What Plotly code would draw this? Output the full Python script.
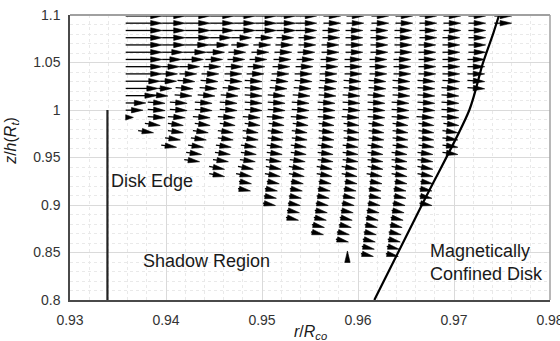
import math
import plotly.graph_objects as go

# ---------------- data ----------------
X_RANGE = [0.93, 0.98]
Z_RANGE = [0.80, 1.10]
X_TICKS = [0.93, 0.94, 0.95, 0.96, 0.97, 0.98]
X_TICK_TEXT = ["0.93", "0.94", "0.95", "0.96", "0.97", "0.98"]
Z_TICKS = [0.80, 0.85, 0.90, 0.95, 1.00, 1.05, 1.10]
Z_TICK_TEXT = ["0.8", "0.85", "0.9", "0.95", "1", "1.05", "1.1"]

# heights of the rows of arrows (z/h)
ROW_Z = [1.0990, 1.0914, 1.0837, 1.0761, 1.0685, 1.0608, 1.0532, 1.0456, 1.0380,
         1.0303, 1.0227, 1.0151, 1.0074, 0.9998, 0.9922, 0.9845, 0.9769, 0.9693,
         0.9616, 0.9540, 0.9464, 0.9387, 0.9311, 0.9235, 0.9159, 0.9082, 0.9006,
         0.8930, 0.8853, 0.8777, 0.8701, 0.8624, 0.8548, 0.8472]

# arrow-tip r/Rco of each column, listed from the top row downwards
C0 = [0.9396, 0.9396, 0.9396, 0.9396, 0.9396, 0.9396, 0.9396, 0.9396, 0.9396,
      0.9394, 0.9392, 0.9390, 0.9379, 0.9376, 0.9366]
C1 = [0.9420, 0.9420, 0.9420, 0.9420, 0.9420, 0.9418, 0.9416, 0.9414, 0.9412,
      0.9411, 0.9406, 0.9402, 0.9399, 0.9399, 0.9399, 0.9394, 0.9387]
C2 = [0.9446, 0.9446, 0.9446, 0.9446, 0.9445, 0.9442, 0.9439, 0.9435, 0.9432,
      0.9430, 0.9428, 0.9427, 0.9422, 0.9422, 0.9420, 0.9418, 0.9418, 0.9415, 0.9411]
C3 = [0.9471, 0.9471, 0.9471, 0.9468, 0.9465, 0.9461, 0.9459, 0.9457, 0.9455,
      0.9454, 0.9453, 0.9451, 0.9448, 0.9448, 0.9446, 0.9446, 0.9444, 0.9442,
      0.9439, 0.9437, 0.9435]
C4 = [0.9493, 0.9493, 0.9493, 0.9489, 0.9486, 0.9483, 0.9482, 0.9480, 0.9479,
      0.9479, 0.9477, 0.9475, 0.9474, 0.9474, 0.9472, 0.9472, 0.9470, 0.9470,
      0.9468, 0.9467, 0.9465, 0.9461, 0.9461]
C5 = [0.9515, 0.9515, 0.9515, 0.9511, 0.9509, 0.9507, 0.9505, 0.9503, 0.9502,
      0.9500, 0.9500, 0.9500, 0.9500, 0.9500, 0.9498, 0.9498, 0.9496, 0.9496,
      0.9494, 0.9494, 0.9493, 0.9491, 0.9489, 0.9489, 0.9488]
C6 = [0.9535, 0.9535, 0.9535, 0.9533, 0.9532, 0.9531, 0.9530, 0.9529, 0.9528,
      0.9527, 0.9526, 0.9524, 0.9524, 0.9524, 0.9523, 0.9523, 0.9522, 0.9522,
      0.9521, 0.9521, 0.9520, 0.9520, 0.9519, 0.9518, 0.9516, 0.9515, 0.9514]
C7 = [0.9557, 0.9557, 0.9557, 0.9556, 0.9556, 0.9555, 0.9554, 0.9553, 0.9552,
      0.9552, 0.9551, 0.9550, 0.9549, 0.9549, 0.9548, 0.9548, 0.9547, 0.9547,
      0.9546, 0.9546, 0.9545, 0.9544, 0.9544, 0.9543, 0.9542, 0.9541, 0.9540,
      0.9539, 0.9538]
C8 = [0.9582, 0.9582, 0.9581, 0.9581, 0.9580, 0.9580, 0.9579, 0.9579, 0.9578,
      0.9578, 0.9577, 0.9577, 0.9576, 0.9576, 0.9576, 0.9575, 0.9575, 0.9575,
      0.9574, 0.9574, 0.9574, 0.9573, 0.9573, 0.9572, 0.9571, 0.9570, 0.9569,
      0.9568, 0.9567, 0.9565, 0.9564]
C9 = [0.9606, 0.9606, 0.9605, 0.9605, 0.9605, 0.9605, 0.9604, 0.9604, 0.9604,
      0.9603, 0.9603, 0.9602, 0.9602, 0.9602, 0.9601, 0.9601, 0.9601, 0.9601,
      0.9600, 0.9600, 0.9600, 0.9599, 0.9599, 0.9599, 0.9598, 0.9597, 0.9596,
      0.9595, 0.9594, 0.9593, 0.9591, 0.9590]
C10 = [0.9632, 0.9632, 0.9631, 0.9631, 0.9631, 0.9631, 0.9630, 0.9630, 0.9630,
       0.9629, 0.9629, 0.9628, 0.9628, 0.9628, 0.9628, 0.9627, 0.9627, 0.9627,
       0.9626, 0.9626, 0.9626, 0.9626, 0.9625, 0.9625, 0.9624, 0.9624, 0.9623,
       0.9622, 0.9621, 0.9620, 0.9619, 0.9618, 0.9617, 0.9616]
C11 = [0.9657, 0.9657, 0.9656, 0.9656, 0.9656, 0.9656, 0.9655, 0.9655, 0.9655,
       0.9654, 0.9654, 0.9654, 0.9653, 0.9653, 0.9653, 0.9652, 0.9652, 0.9652,
       0.9652, 0.9651, 0.9651, 0.9651, 0.9651, 0.9651, 0.9650, 0.9650, 0.9649,
       0.9648, 0.9647, 0.9646, 0.9645, 0.9644, 0.9643, 0.9642]
C12 = [0.9682, 0.9682, 0.9682, 0.9682, 0.9681, 0.9681, 0.9681, 0.9681, 0.9681,
       0.9680, 0.9680, 0.9680, 0.9680, 0.9680, 0.9679, 0.9679, 0.9679, 0.9679,
       0.9679, 0.9678, 0.9678, 0.9678, 0.9678, 0.9678, 0.9677, 0.9677, 0.9677]
C13 = [0.9707, 0.9707, 0.9707, 0.9706, 0.9706, 0.9706, 0.9706, 0.9706, 0.9706,
       0.9706, 0.9705, 0.9705, 0.9705, 0.9705, 0.9705, 0.9705, 0.9704, 0.9704,
       0.9704, 0.9704]
C14 = [0.9733, 0.9733, 0.9733, 0.9733, 0.9733, 0.9733, 0.9732, 0.9732, 0.9732,
       0.9732, 0.9732]
C15 = [0.9760, 0.9760]
COLUMNS = [C0, C1, C2, C3, C4, C5, C6, C7, C8, C9, C10, C11, C12, C13, C14, C15]

# number of leading arrows of each row that start where the previous one ends
ROW_CHAIN = [8, 8, 8, 5, 4, 4, 3, 3, 2, 2, 2, 1, 1, 1, 1,
             0, 0, 0, 0, 0, 0, 0, 0, 0, 0, 0, 0, 0, 0, 0, 0, 0, 0, 0]
# downward tilt of the (unchained) arrows of each row (degrees)
ROW_TILT_DEG = [0, 0, 0, 0, 0, 0, 0, 0, 0,
                4, 4, 4, 4, 4, 4,
                8, 8, 8, 8, 8, 8,
                11, 11, 11, 11, 11, 11, 11,
                13, 13, 13, 13, 13, 13]
# length of the ordinary (unchained) arrows of each row (r/Rco)
ROW_LEN = [0.0018] * 15 + [0.0016] * 8 + [0.0013] * 11
X_START = 0.9358          # where the first arrows of each row start
UP_ARROW = (0.9589, 0.8516)  # tip of the single upward arrow

# boundary of the magnetically confined disk
CURVE_X = [0.9617, 0.9669, 0.9716, 0.9730, 0.9741, 0.9747]
CURVE_Z = [0.800, 0.905, 1.000, 1.049, 1.081, 1.100]
# disk edge
EDGE_X = 0.9339
EDGE_Z = [0.80, 1.00]

# ---------------- layout geometry ----------------
W, H = 560, 341
M_L, M_R, M_T, M_B = 70, 10, 15, 41
PLOT_W = W - M_L - M_R
PLOT_H = H - M_T - M_B
SX = PLOT_W / (X_RANGE[1] - X_RANGE[0])   # px per data unit
SZ = PLOT_H / (Z_RANGE[1] - Z_RANGE[0])
HEAD_LEN = 11.5
HEAD_HW = 2.7

shaft_x, shaft_z, head_x, head_z = [], [], [], []


def add_arrow(tx, tz, px, pz):
    dxp = (px - tx) * SX
    dzp = (pz - tz) * SZ
    L = math.hypot(dxp, dzp)
    if L == 0:
        return
    ux, uz = dxp / L, dzp / L
    hl = min(HEAD_LEN, L)
    bx = px - hl * ux / SX
    bz = pz - hl * uz / SZ
    nx, nz = -uz, ux
    head_x.extend([px, bx + HEAD_HW * nx / SX, bx - HEAD_HW * nx / SX, px, None])
    head_z.extend([pz, bz + HEAD_HW * nz / SZ, bz - HEAD_HW * nz / SZ, pz, None])
    if L > hl:
        ex = px - (hl - 2) * ux / SX
        ez = pz - (hl - 2) * uz / SZ
        shaft_x.extend([tx, ex, None])
        shaft_z.extend([tz, ez, None])


for k, z in enumerate(ROW_Z):
    tips = [col[k] for col in COLUMNS if k < len(col)]
    for i, tip in enumerate(tips):
        if i < ROW_CHAIN[k]:
            tail = X_START if i == 0 else tips[i - 1]
            th = 0.0
        else:
            tail = tip - ROW_LEN[k]
            th = math.radians(ROW_TILT_DEG[k])
        tip_z = z - (HEAD_LEN / 2) * math.sin(th) / SZ
        Lp = (tip - tail) * SX
        tail_z = tip_z + Lp * math.tan(th) / SZ
        add_arrow(tail, tail_z, tip, tip_z)

# single upward arrow
add_arrow(UP_ARROW[0], UP_ARROW[1] - HEAD_LEN / SZ, UP_ARROW[0], UP_ARROW[1])

fig = go.Figure()
fig.add_trace(go.Scatter(x=shaft_x, y=shaft_z, mode="lines",
                         line=dict(color="black", width=1.3),
                         hoverinfo="skip", showlegend=False))
fig.add_trace(go.Scatter(x=head_x, y=head_z, mode="lines", fill="toself",
                         fillcolor="black", line=dict(color="black", width=0.6),
                         hoverinfo="skip", showlegend=False))
fig.add_trace(go.Scatter(x=CURVE_X, y=CURVE_Z, mode="lines",
                         line=dict(color="black", width=2.2, shape="spline", smoothing=0.8),
                         hoverinfo="skip", showlegend=False))
fig.add_trace(go.Scatter(x=[EDGE_X, EDGE_X], y=EDGE_Z, mode="lines",
                         line=dict(color="#222222", width=2.2),
                         hoverinfo="skip", showlegend=False))

FONT = "Liberation Sans, Arial, sans-serif"
TXT = dict(family=FONT, size=18, color="#1a1a1a")
fig.add_annotation(x=0.9341, y=0.9255, text="Disk Edge", showarrow=False,
                   xanchor="left", yanchor="middle", font=TXT)
fig.add_annotation(x=0.9442, y=0.841, text="Shadow Region", showarrow=False,
                   xanchor="center", yanchor="middle", font=TXT)
fig.add_annotation(x=0.9673, y=0.839, text="Magnetically<br>Confined Disk",
                   showarrow=False, xanchor="left", yanchor="middle",
                   align="left", font=TXT)
# axis titles
fig.add_annotation(xref="paper", yref="paper", x=0.5, y=-0.115,
                   text="<i>r</i>/<i>R</i><sub><i>co</i></sub>", showarrow=False,
                   xanchor="center", yanchor="middle",
                   font=dict(family=FONT, size=16, color="#1a1a1a"))
fig.add_annotation(xref="paper", yref="paper", x=-0.122, y=0.56,
                   text="<i>z</i>/<i>h</i>(<i>R</i><sub><i>t</i></sub>)",
                   showarrow=False, textangle=-90, xanchor="center",
                   yanchor="middle",
                   font=dict(family=FONT, size=16, color="#1a1a1a"))

# top and right frame lines
fig.add_shape(type="line", xref="paper", yref="paper", x0=0, x1=1, y0=1, y1=1,
              line=dict(color="#a0a0a0", width=2))
fig.add_shape(type="line", xref="paper", yref="paper", x0=1, x1=1, y0=0, y1=1,
              line=dict(color="#a0a0a0", width=1.5))

fig.update_layout(
    width=W, height=H,
    margin=dict(l=M_L, r=M_R, t=M_T, b=M_B, autoexpand=False),
    paper_bgcolor="white", plot_bgcolor="white",
    font=dict(family=FONT, size=14, color="#333333"),
    xaxis=dict(range=X_RANGE, tickmode="array", tickvals=X_TICKS,
               ticktext=X_TICK_TEXT, showline=True, linecolor="#4a4a4a",
               linewidth=1.5, showgrid=True, gridcolor="#dadada", gridwidth=1,
               zeroline=False, ticks="", ticklabelstandoff=6, automargin=False,
               ticklabeloverflow="allow",
               tickfont=dict(size=14, color="#333333"),
               minor=dict(tick0=0.93, dtick=0.002, showgrid=True,
                          gridcolor="#e9e9e9", griddash="dot", gridwidth=1)),
    yaxis=dict(range=Z_RANGE, tickmode="array", tickvals=Z_TICKS,
               ticktext=Z_TICK_TEXT, showline=True, linecolor="#4a4a4a",
               linewidth=1.5, showgrid=True, gridcolor="#dadada", gridwidth=1,
               zeroline=False, ticks="", ticklabelstandoff=5, automargin=False,
               ticklabeloverflow="allow",
               tickfont=dict(size=14, color="#333333"),
               minor=dict(tick0=0.8, dtick=0.01, showgrid=True,
                          gridcolor="#e9e9e9", griddash="dot", gridwidth=1)),
)

fig.write_html("out.html", config={"displayModeBar": False},
               post_script="document.body.style.margin='0';"
                           "document.body.style.padding='0';")
